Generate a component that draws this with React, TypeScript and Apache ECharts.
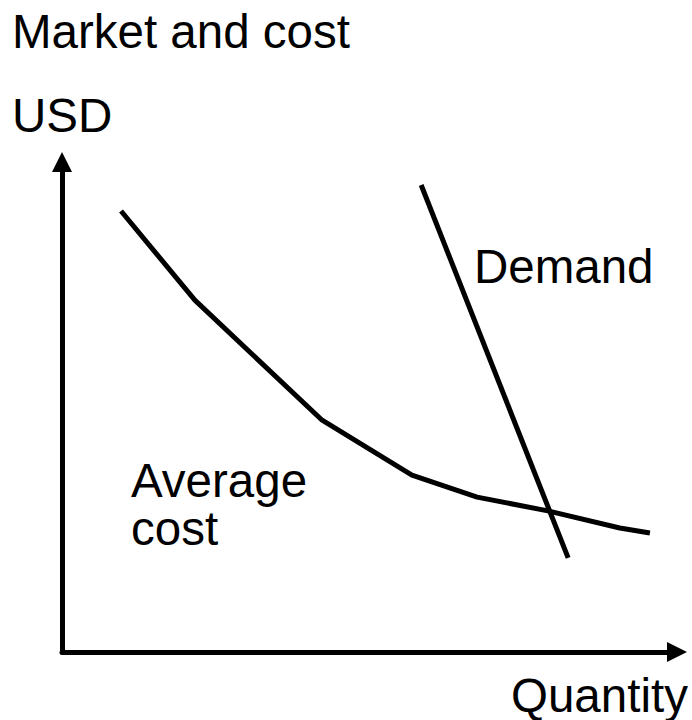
import React, { useEffect, useRef } from "react";
import * as echarts from "echarts";

const titleText = "Market and cost";
const yAxisLabel = "USD";
const xAxisLabel = "Quantity";
const demandLabel = "Demand";
const avgCostLabel = ["Average", "cost"];

// Average cost curve (Quantity, USD) in abstract units 0..10
const avgCostX = [0.96, 2.16, 4.23, 5.69, 6.75, 7.9, 9.07, 9.56];
const avgCostY = [9.0, 7.18, 4.73, 3.61, 3.16, 2.88, 2.53, 2.43];

// Demand line
const demandX = [5.84, 8.23];
const demandY = [9.53, 1.92];

const FONT = "'Liberation Sans', Arial, Helvetica, sans-serif";

export default function App() {
  const ref = useRef<HTMLDivElement>(null);
  useEffect(() => {
    if (!ref.current) return;
    const chart = echarts.init(ref.current, undefined, { renderer: "svg" });
    const axisCommon = {
      type: "value" as const,
      min: 0,
      max: 10,
      axisLine: {
        show: true,
        symbol: ["none", "triangle"],
        symbolSize: [20, 20],
        lineStyle: { color: "#000", width: 5 },
      },
      axisTick: { show: false },
      axisLabel: { show: false },
      splitLine: { show: false },
    };
    const textStyle = (x: number, y: number, text: string) => ({
      type: "text",
      x,
      y,
      style: {
        text,
        fill: "#000",
        font: `47.5px ${FONT}`,
        verticalAlign: "middle",
        align: "left",
      },
    });
    chart.setOption({
      animation: false,
      backgroundColor: "#fff",
      grid: { left: 62, right: 15, top: 162, bottom: 68 },
      xAxis: axisCommon,
      yAxis: axisCommon,
      series: [
        {
          name: "Average cost",
          type: "line",
          data: avgCostX.map((x, i) => [x, avgCostY[i]]),
          showSymbol: false,
          symbol: "none",
          lineStyle: { color: "#000", width: 5, cap: "butt" },
        },
        {
          name: "Demand",
          type: "line",
          data: demandX.map((x, i) => [x, demandY[i]]),
          showSymbol: false,
          symbol: "none",
          lineStyle: { color: "#000", width: 5, cap: "butt" },
        },
      ],
      graphic: [
        textStyle(12, 31, titleText),
        textStyle(12, 115, yAxisLabel),
        textStyle(511, 695, xAxisLabel),
        textStyle(474, 266, demandLabel),
        textStyle(131, 480, avgCostLabel[0]),
        textStyle(131, 528, avgCostLabel[1]),
      ],
    });
    return () => chart.dispose();
  }, []);
  return (
    <div
      ref={ref}
      style={{ position: "fixed", left: 0, top: 0, width: 692, height: 720 }}
    />
  );
}
